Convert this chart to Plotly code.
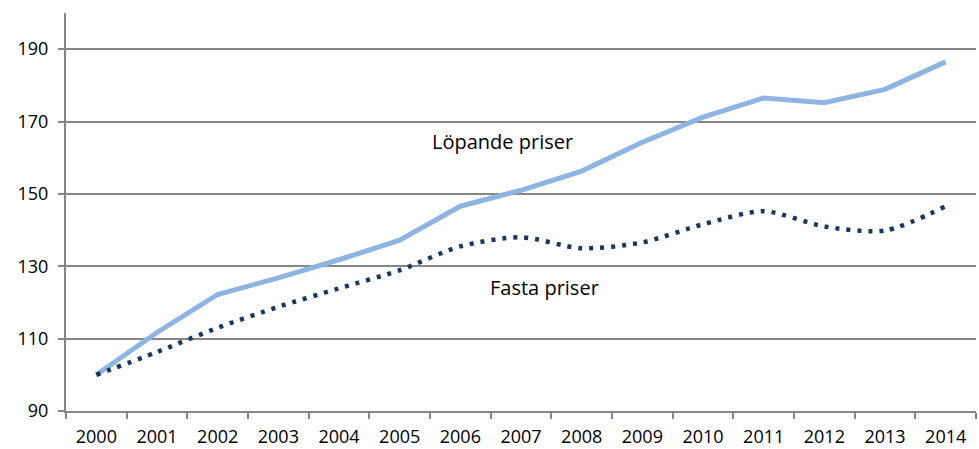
import plotly.graph_objects as go

years = [str(y) for y in range(2000, 2015)]
lopande = [100, 111.7, 122.2, 126.8, 131.8, 137.2, 146.6, 151.0, 156.3, 164.3, 171.2, 176.5, 175.2, 178.9, 186.5]
fasta = [100, 106.3, 113.0, 118.8, 123.9, 128.9, 135.5, 138.0, 135.0, 136.6, 141.6, 145.2, 141.0, 139.9, 146.6]

FONT = dict(family="'Open Sans', sans-serif", size=18, color="#000000")
LABEL_FONT = dict(family="'Open Sans', sans-serif", size=20, color="#000000")
AXIS_GREY = "#868686"

fig = go.Figure()

fig.add_trace(go.Scatter(
    x=years, y=lopande, mode="lines", name="Löpande priser",
    line=dict(color="#8DB4E2", width=5),
))

fig.add_trace(go.Scatter(
    x=years, y=fasta, mode="lines", name="Fasta priser",
    line=dict(color="#17375E", width=4.5, dash="4px,7px", shape="spline", smoothing=0.8),
))

fig.add_annotation(x=6.69, y=164.4, text="Löpande priser", showarrow=False, font=LABEL_FONT)
fig.add_annotation(x=7.38, y=124.1, text="Fasta priser", showarrow=False, font=LABEL_FONT)

fig.update_layout(
    width=979, height=449,
    margin=dict(l=66, r=3, t=13, b=38),
    paper_bgcolor="white", plot_bgcolor="white",
    showlegend=False,
    font=FONT,
    xaxis=dict(
        type="category", tickson="boundaries", range=[-0.5, 14.5],
        showgrid=False, showline=True, linecolor=AXIS_GREY, linewidth=2,
        ticks="outside", ticklen=6, tickcolor=AXIS_GREY, tickwidth=2,
        ticklabelstandoff=8, zeroline=False, automargin=False,
    ),
    yaxis=dict(
        range=[90, 200], tickvals=[90, 110, 130, 150, 170, 190],
        showgrid=True, gridcolor=AXIS_GREY, gridwidth=1.5,
        showline=True, linecolor=AXIS_GREY, linewidth=2,
        ticks="outside", ticklen=6, tickcolor=AXIS_GREY, tickwidth=2,
        ticklabelstandoff=6, zeroline=False, automargin=False,
    ),
)

# page has a default 8px body margin; drop it so the figure sits at 0,0
fig.write_html(
    "out.html",
    config={"displayModeBar": False},
    post_script="document.body.style.margin='0';",
)
